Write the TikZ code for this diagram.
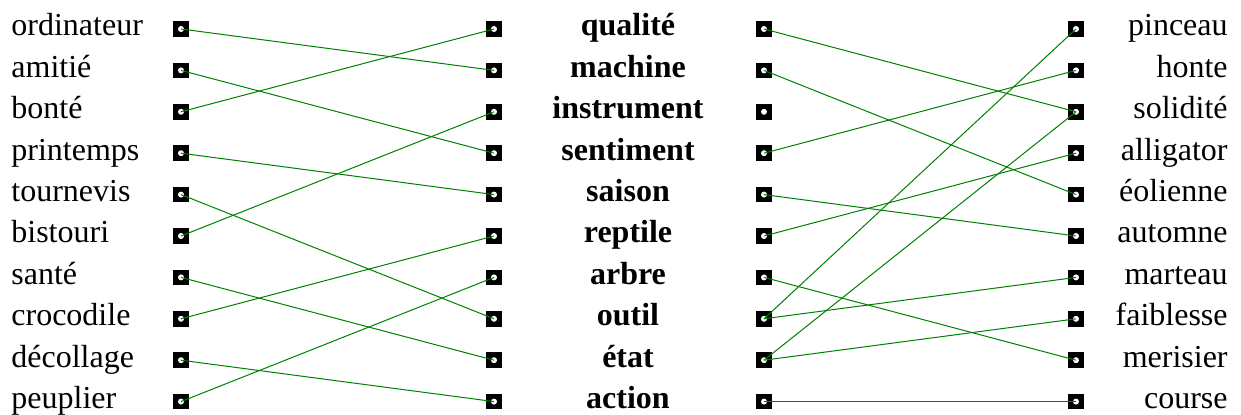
\documentclass[tikz,border=0pt]{standalone}
\usepackage{fontspec}
\setmainfont{Liberation Serif}
\usetikzlibrary{positioning}

\begin{document}
\begin{tikzpicture}[
    x=0.5pt, y=-0.5pt,
    font=\fontsize{16}{19}\selectfont,
    plug/.style={fill=black, minimum size=7.8pt, inner sep=0pt,
        path picture={\fill[white] (path picture bounding box.center) circle (1.5pt);}},
    word/.style={inner sep=0pt},
    keyword/.style={inner sep=0pt, anchor=base, font=\fontsize{16}{19}\selectfont\bfseries},
    pair/.style={green!50!black, line width=0.5pt}
]
    \useasboundingbox (0,0) rectangle (1241,415);

    % Word columns
    \foreach \w [count=\i] in {ordinateur, amitié, bonté, printemps, tournevis, bistouri, santé, crocodile, décollage, peuplier}
        \node[word, anchor=base west] (left\i) at (11, {36+41.4*(\i-1)}) {\w};
    \foreach \w [count=\i] in {qualité, machine, instrument, sentiment, saison, reptile, arbre, outil, état, action}
        \node[keyword] (mid\i) at (628, {36+41.4*(\i-1)}) {\w};
    \foreach \w [count=\i] in {pinceau, honte, solidité, alligator, éolienne, automne, marteau, faiblesse, merisier, course}
        \node[word, anchor=base east] (right\i) at (1228, {36+41.4*(\i-1)}) {\w};

    % Plugs
    \foreach \i in {1,...,10} {
        \node[plug] (a\i) at (181, {29+41.4*(\i-1)}) {};
        \node[plug] (b\i) at (494, {29+41.4*(\i-1)}) {};
        \node[plug] (c\i) at (764, {29+41.4*(\i-1)}) {};
        \node[plug] (d\i) at (1076, {29+41.4*(\i-1)}) {};
    }

    % Links
    \foreach \p/\q in {1/2, 2/4, 3/1, 4/5, 5/8, 6/3, 7/9, 8/6, 9/10, 10/7}
        \draw[pair] (a\p.center) -- (b\q.center);
    \foreach \p/\q in {1/3, 2/5, 4/2, 5/6, 6/4, 7/9, 8/1, 8/7, 9/3, 9/8, 10/10}
        \draw[pair] (c\p.center) -- (d\q.center);

\end{tikzpicture}
\end{document}
